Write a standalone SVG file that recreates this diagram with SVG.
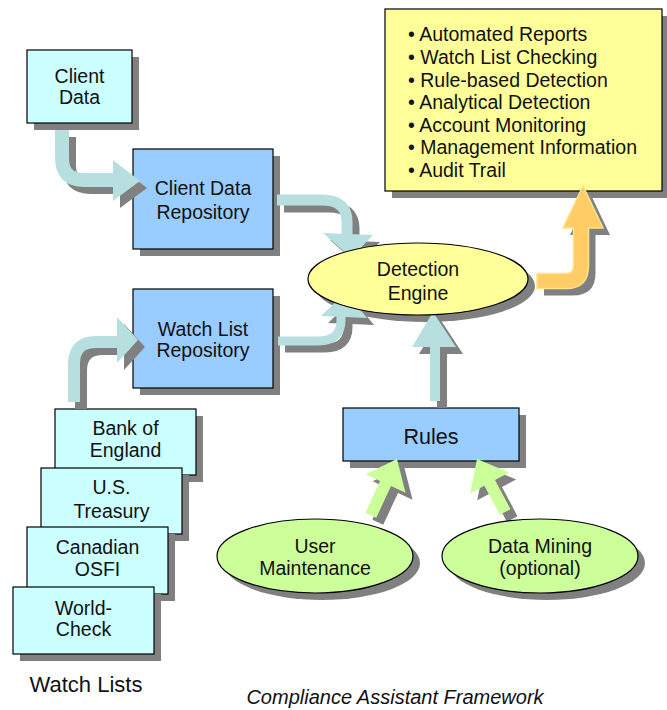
<svg xmlns="http://www.w3.org/2000/svg" width="667" height="710" viewBox="0 0 667 710">
<defs>
<style>
.t{font-family:"Liberation Sans",Arial,sans-serif;font-size:19.5px;fill:#111;text-anchor:middle}
.b{text-anchor:start}
.sh{fill:#808080;stroke:none}
.shl{fill:none;stroke:#808080}
.lb{fill:#CCFFFF;stroke:#000;stroke-width:1.2}
.rp{fill:#99CCFF;stroke:#000;stroke-width:1.2}
.yl{fill:#FFFF99;stroke:#000;stroke-width:1.2}
.gr{fill:#CCFF99;stroke:#000;stroke-width:1.2}
.bs{fill:none;stroke:#B8DFE0}
.bh{fill:#B8DFE0}
.ga{fill:#CCFF99}
.or{fill:#FFCC66;stroke:#FFE28A;stroke-width:1.5}
</style>
</defs>
<rect width="667" height="710" fill="#fff"/>

<g id="results">
<rect class="sh" x="392" y="16" width="277" height="182"/>
<rect class="yl" x="385" y="9" width="277" height="182"/>
<text class="t b" x="408" y="41">• Automated Reports</text>
<text class="t b" x="408" y="64">• Watch List Checking</text>
<text class="t b" x="408" y="87">• Rule-based Detection</text>
<text class="t b" x="408" y="109">• Analytical Detection</text>
<text class="t b" x="408" y="132">• Account Monitoring</text>
<text class="t b" x="408" y="154">• Management Information</text>
<text class="t b" x="408" y="177">• Audit Trail</text>
</g>

<g id="client-data">
<rect class="sh" x="34" y="57" width="105" height="73"/>
<rect class="lb" x="27" y="50" width="105" height="73"/>
<text class="t" x="79.5" y="83">Client</text>
<text class="t" x="79.5" y="104">Data</text>
</g>

<g id="client-data-repository">
<rect class="sh" x="140" y="156" width="140" height="100"/>
<rect class="rp" x="133" y="149" width="140" height="100"/>
<text class="t" x="203" y="195">Client Data</text>
<text class="t" x="203" y="219">Repository</text>
</g>

<g id="watch-list-repository">
<rect class="sh" x="140" y="296" width="140" height="99"/>
<rect class="rp" x="133" y="289" width="140" height="99"/>
<text class="t" x="203" y="336">Watch List</text>
<text class="t" x="203" y="357">Repository</text>
</g>

<g id="bank-of-england">
<rect class="sh" x="62" y="416" width="141" height="66"/>
<rect class="lb" x="55" y="409" width="141" height="66"/>
<text class="t" x="125.5" y="435">Bank of</text>
<text class="t" x="125.5" y="457">England</text>
</g>

<g id="us-treasury">
<rect class="sh" x="48" y="475" width="141" height="66"/>
<rect class="lb" x="41" y="468" width="141" height="66"/>
<text class="t" x="111.5" y="494">U.S.</text>
<text class="t" x="111.5" y="518">Treasury</text>
</g>

<g id="canadian-osfi">
<rect class="sh" x="34" y="534" width="141" height="67"/>
<rect class="lb" x="27" y="527" width="141" height="67"/>
<text class="t" x="97.5" y="554">Canadian</text>
<text class="t" x="97.5" y="576">OSFI</text>
</g>

<g id="world-check">
<rect class="sh" x="20" y="594" width="141" height="67"/>
<rect class="lb" x="13" y="587" width="141" height="67"/>
<text class="t" x="83.5" y="615">World-</text>
<text class="t" x="83.5" y="636">Check</text>
</g>

<g id="watch-lists-label">
<text class="t" x="86" y="692" style="font-size:22px">Watch Lists</text>
</g>

<g id="rules">
<rect class="sh" x="350" y="415" width="176" height="53"/>
<rect class="rp" x="343" y="408" width="176" height="53"/>
<text class="t" x="431" y="444" style="font-size:21.5px">Rules</text>
</g>

<g id="ellipse-shadows">
<ellipse class="sh" cx="425" cy="286" rx="110" ry="36"/>
<ellipse class="sh" cx="322" cy="563" rx="98" ry="37"/>
<ellipse class="sh" cx="547" cy="563" rx="98" ry="37"/>
</g>

<g id="connectors">
<!-- Client Data -> Client Data Repository -->
<g transform="translate(7,7)">
<path class="shl" d="M62,130 L62,158 Q62,180 84,180 L115,180" stroke-width="14"/>
<polygon class="sh" points="113,160 140,181 113,201"/>
</g>
<path class="bs" d="M62,130 L62,158 Q62,180 84,180 L115,180" stroke-width="14"/>
<polygon class="bh" points="113,160 140,181 113,201"/>

<!-- Client Data Repository -> Detection Engine -->
<g transform="translate(7,7)">
<path class="shl" d="M277,200 L322,200 Q347,200 347,222 L347,235" stroke-width="11"/>
<polygon class="sh" points="323,233 373,235 351,258"/>
</g>
<path class="bs" d="M277,200 L322,200 Q347,200 347,222 L347,235" stroke-width="11"/>
<polygon class="bh" points="323,233 373,235 351,258"/>

<!-- Watch List Repository -> Detection Engine -->
<g transform="translate(7,7)">
<path class="shl" d="M278,341 L318,341 Q341,341 341,320 L341,314" stroke-width="9"/>
<polygon class="sh" points="321,316 367,318 346,292"/>
</g>
<path class="bs" d="M278,341 L318,341 Q341,341 341,320 L341,314" stroke-width="9"/>
<polygon class="bh" points="321,316 367,318 346,292"/>

<!-- Bank of England -> Watch List Repository -->
<g transform="translate(7,7)">
<path class="shl" d="M74,402 L74,364 Q74,342 96,342 L119,342" stroke-width="12"/>
<polygon class="sh" points="117,317 138,340 117,363"/>
</g>
<path class="bs" d="M74,402 L74,364 Q74,342 96,342 L119,342" stroke-width="12"/>
<polygon class="bh" points="117,317 138,340 117,363"/>

<!-- Rules -> Detection Engine -->
<g transform="translate(7,7)">
<path class="shl" d="M435,401 L435,345" stroke-width="10"/>
<polygon class="sh" points="412,347 456,347 433,312"/>
</g>
<path class="bs" d="M435,401 L435,345" stroke-width="10"/>
<polygon class="bh" points="412,347 456,347 433,312"/>

<!-- Detection Engine -> Results -->
<path class="sh" transform="translate(7,7)" d="M537,273.5 L566,273.5 Q573.5,273.5 573.5,266 L573.5,228 L563,228 L583,186 L603,228 L588.5,228 L588.5,266 Q588.5,288.5 566,288.5 L537,288.5 Z"/>
<path class="or" d="M537,273.5 L566,273.5 Q573.5,273.5 573.5,266 L573.5,228 L563,228 L583,186 L603,228 L588.5,228 L588.5,266 Q588.5,288.5 566,288.5 L537,288.5 Z"/>

<!-- User Maintenance -> Rules -->
<polygon class="sh" transform="translate(404,466) rotate(25)" points="0,0 22,27 6,27 6,62 -6,62 -6,27 -22,27"/>
<polygon class="ga" transform="translate(397,459) rotate(25)" points="0,0 22,27 6,27 6,62 -6,62 -6,27 -22,27"/>

<!-- Data Mining -> Rules -->
<polygon class="sh" transform="translate(484,466) rotate(-28)" points="0,0 22,27 6,27 6,60 -6,60 -6,27 -22,27"/>
<polygon class="ga" transform="translate(477,459) rotate(-28)" points="0,0 22,27 6,27 6,60 -6,60 -6,27 -22,27"/>
</g>

<g id="detection-engine">
<ellipse class="yl" cx="418" cy="279" rx="110" ry="36"/>
<text class="t" x="418" y="276">Detection</text>
<text class="t" x="418" y="300">Engine</text>
</g>

<g id="user-maintenance">
<ellipse class="gr" cx="315" cy="556" rx="98" ry="37"/>
<text class="t" x="315" y="553">User</text>
<text class="t" x="315" y="575">Maintenance</text>
</g>

<g id="data-mining">
<ellipse class="gr" cx="540" cy="556" rx="98" ry="37"/>
<text class="t" x="540" y="553">Data Mining</text>
<text class="t" x="540" y="575">(optional)</text>
</g>

<g id="caption">
<text class="t" x="395" y="704" style="font-size:20px;font-style:italic">Compliance Assistant Framework</text>
</g>
</svg>
